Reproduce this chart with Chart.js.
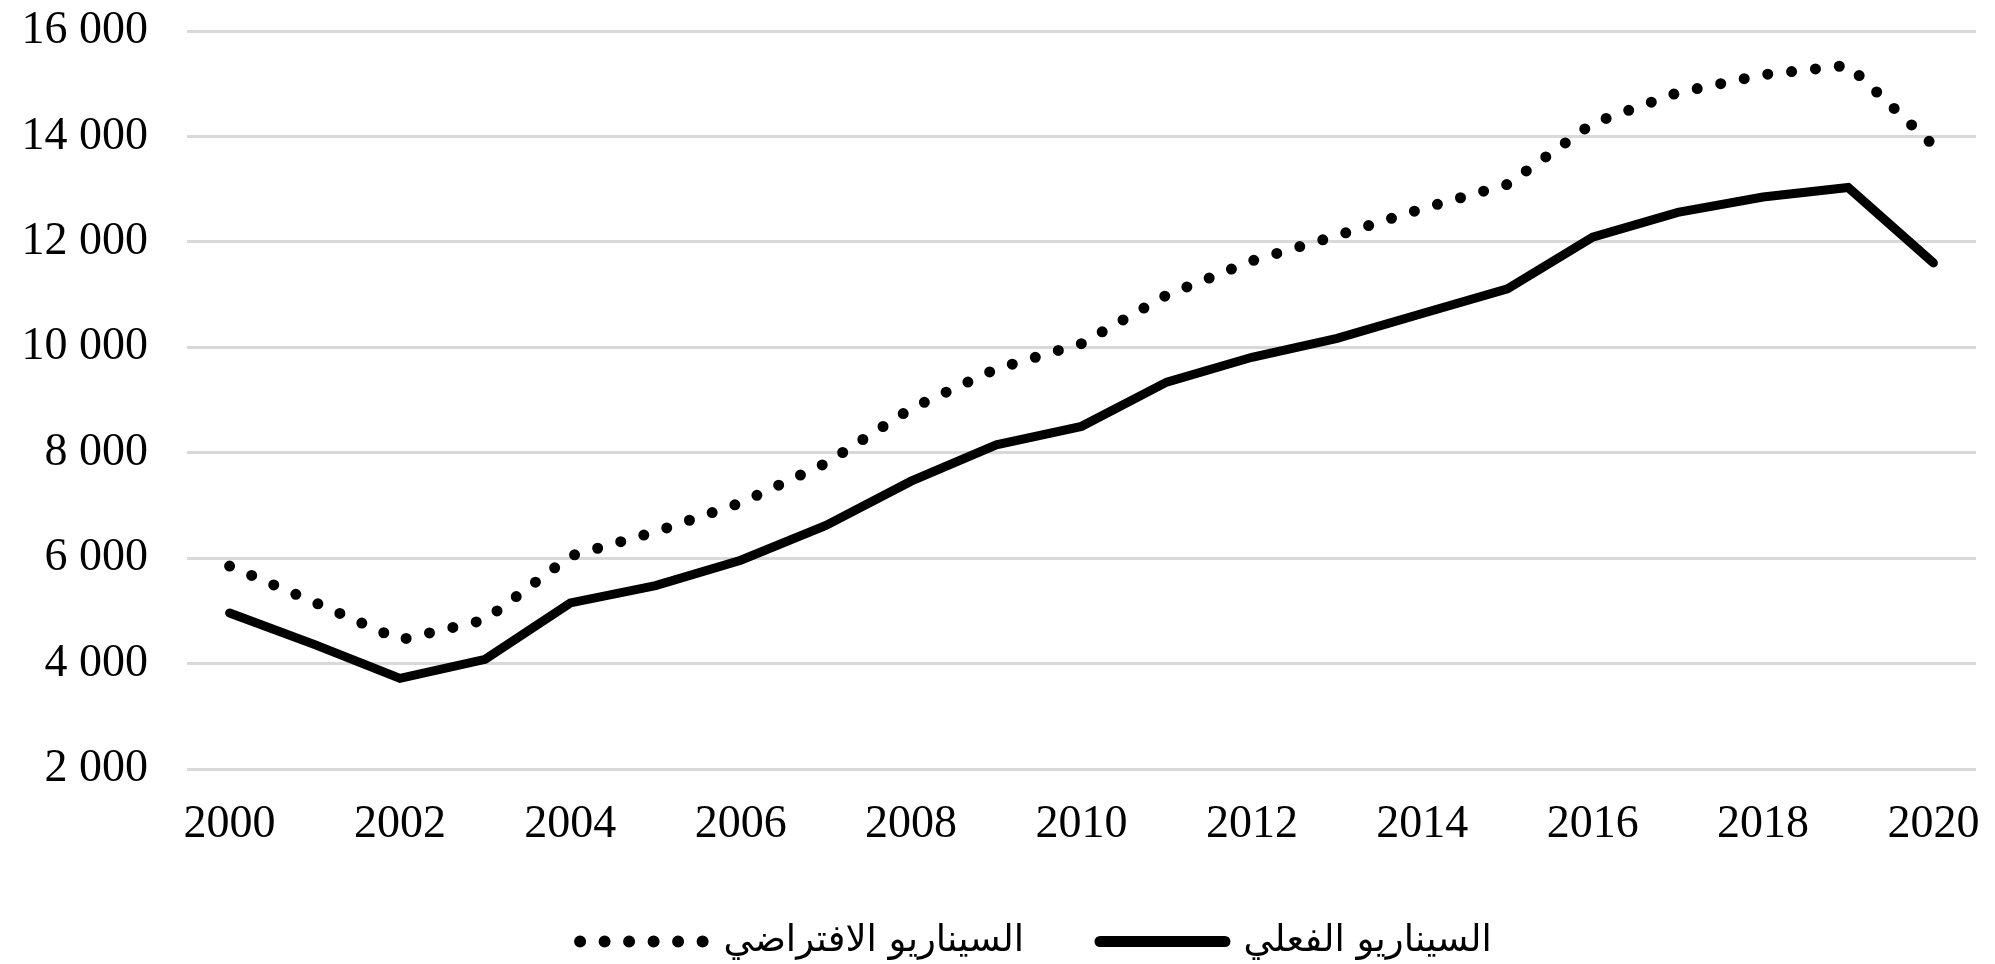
<!DOCTYPE html>
<html lang="ar">
<head>
<meta charset="utf-8">
<title>السيناريو الفعلي والافتراضي</title>
<script src="https://cdn.jsdelivr.net/npm/chart.js@4/dist/chart.umd.min.js"></script>
<style>
  html, body { margin: 0; padding: 0; background: #ffffff; }
  #wrap { width: 1995px; height: 964px; }
</style>
</head>
<body>
<div id="wrap"><canvas id="scenarioChart"></canvas></div>
<script>
// Годы по оси X
const years = ['2000', '2001', '2002', '2003', '2004', '2005', '2006', '2007', '2008', '2009', '2010',
               '2011', '2012', '2013', '2014', '2015', '2016', '2017', '2018', '2019', '2020'];

// السيناريو الفعلي (сплошная линия)
const actual = [4960, 4360, 3720, 4080, 5150, 5480, 5960, 6620, 7460, 8150, 8500,
                9340, 9810, 10170, 10640, 11110, 12090, 12560, 12850, 13030, 11600];

// السيناريو الافتراضي (пунктир из точек)
const hypothetical = [5850, 5160, 4450, 4830, 6040, 6500, 7050, 7800, 8840, 9590, 10070,
                      10990, 11640, 12120, 12630, 13090, 14250, 14830, 15170, 15350, 13830];

// Подписи серий
const seriesNames = ['السيناريو الفعلي', 'السيناريو الافتراضي'];

// Делители оси Y
const yMin = 2000;
const yMax = 16000;
const yStep = 2000;

// "16 000" — пробел как разделитель тысяч
function formatThousands(v) {
  return String(v).replace(/\B(?=(\d{3})+(?!\d))/g, ' ');
}

// Легенда в оригинале чуть смещена вправо от центра холста
const shiftLegend = {
  id: 'shiftLegend',
  afterLayout(chart) {
    chart.legend.left = 96;
  }
};

document.addEventListener('DOMContentLoaded', function() {
  const ctx = document.getElementById('scenarioChart').getContext('2d');

  new Chart(ctx, {
    type: 'line',
    data: {
      labels: years,
      datasets: [
        {
          label: seriesNames[0],
          data: actual,
          borderColor: '#000000',
          backgroundColor: '#000000',
          borderWidth: 9,
          borderJoinStyle: 'miter',
          borderCapStyle: 'round',
          pointRadius: 0,
          tension: 0
        },
        {
          label: seriesNames[1],
          data: hypothetical,
          borderColor: '#000000',
          backgroundColor: '#000000',
          borderWidth: 11,
          borderDash: [0, 24],
          borderCapStyle: 'round',
          pointRadius: 0,
          tension: 0
        }
      ]
    },
    options: {
      responsive: true,
      maintainAspectRatio: false,
      animation: false,
      layout: {
        // низ отрицательный: легенда в оригинале прижата почти к краю
        padding: { top: 0, left: 18, right: 19, bottom: -6 }
      },
      scales: {
        x: {
          offset: true,
          grid: { display: false, drawTicks: false },
          border: { display: false },
          ticks: {
            autoSkip: false,
            maxRotation: 0,
            padding: 28,
            color: '#000000',
            font: { family: '"Liberation Serif", "Times New Roman", serif', size: 46 },
            callback: function(value, index) {
              return index % 2 === 0 ? this.getLabelForValue(value) : '';
            }
          },
          // фиксируем высоту оси и убираем боковые отступы под крайние подписи
          afterFit: function(scale) {
            scale.height = 78;
            scale.paddingLeft = 0;
            scale.paddingRight = 0;
          }
        },
        y: {
          min: yMin,
          max: yMax,
          grid: { color: '#d9d9d9', lineWidth: 3, drawTicks: false },
          border: { display: false },
          ticks: {
            stepSize: yStep,
            padding: 39,
            color: '#000000',
            font: { family: '"Liberation Serif", "Times New Roman", serif', size: 46 },
            callback: v => formatThousands(v)
          },
          afterFit: function(scale) {
            scale.width = 169;
            scale.paddingTop = 31;
          }
        }
      },
      plugins: {
        tooltip: { enabled: false },
        legend: {
          position: 'bottom',
          reverse: true,
          labels: {
            color: '#000000',
            font: { family: '"DejaVu Sans", sans-serif', size: 37 },
            usePointStyle: true,
            pointStyle: 'line',
            pointStyleWidth: 125,
            padding: 76,
            generateLabels: function(chart) {
              const items = Chart.defaults.plugins.legend.labels.generateLabels(chart);
              items.forEach(it => {
                it.pointStyle = 'line';
                it.lineCap = 'round';
                if (it.datasetIndex === 1) {
                  it.lineWidth = 12;
                  it.lineDash = [0, 24.5];
                } else {
                  it.lineWidth = 11;
                  it.lineDash = [];
                }
              });
              return items;
            }
          }
        }
      }
    },
    plugins: [shiftLegend]
  });
});
</script>
</body>
</html>
